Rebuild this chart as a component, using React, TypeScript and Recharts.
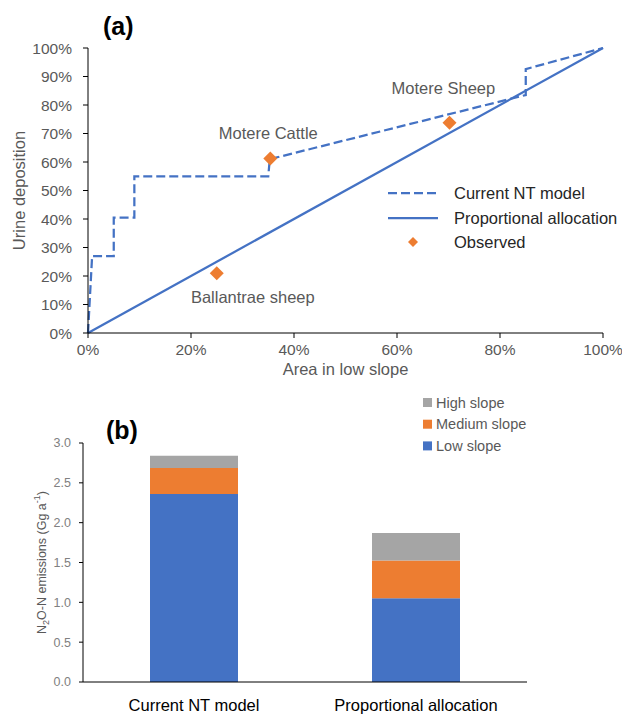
import React from "react";
import {
  ComposedChart,
  Line,
  Scatter,
  XAxis,
  YAxis,
  ReferenceDot,
  Legend,
  BarChart,
  Bar,
} from "recharts";

// ---- (a) urine deposition vs area in low slope ----
const ntModelX = [0, 0.8, 5, 5, 9, 9, 35, 35.3, 85, 85, 100];
const ntModelY = [0, 27, 27, 40.5, 40.5, 55, 55, 61, 83.5, 92.6, 100];
const proportionalX = [0, 100];
const proportionalY = [0, 100];
const observedX = [25, 35.4, 70.2];
const observedY = [21, 61.2, 73.8];
const siteNames = ["Ballantrae sheep", "Motere Cattle", "Motere Sheep"];
// where each site name sits, in axis units
const siteLabelX = [32, 35, 69];
const siteLabelY = [12.6, 70.2, 86];
const areaTicks = [0, 20, 40, 60, 80, 100];
const depositionTicks = [0, 10, 20, 30, 40, 50, 60, 70, 80, 90, 100];

// ---- (b) N2O-N emissions ----
const scenarios = ["Current NT model", "Proportional allocation"];
const lowSlope = [2.36, 1.05];
const mediumSlope = [0.325, 0.475];
const highSlope = [0.155, 0.345];
const emissionTicks = [0, 0.5, 1, 1.5, 2, 2.5, 3];

const BLUE = "#4472C4";
const ORANGE = "#ED7D31";
const GREY = "#A5A5A5";
const TEXT = "#595959";
const FONT = "'Liberation Sans', Arial, sans-serif";

const ntModel = ntModelX.map((x, i) => ({ x, y: ntModelY[i] }));
const proportional = proportionalX.map((x, i) => ({ x, y: proportionalY[i] }));
const observed = observedX.map((x, i) => ({ x, y: observedY[i] }));
const emissions = scenarios.map((name, i) => ({
  name,
  low: lowSlope[i],
  medium: mediumSlope[i],
  high: highSlope[i],
}));

const Diamond = (props: any) => {
  const { cx, cy } = props;
  const r = 7;
  return (
    <polygon
      points={`${cx},${cy - r} ${cx + r},${cy} ${cx},${cy + r} ${cx - r},${cy}`}
      fill={ORANGE}
    />
  );
};

const TopLegend = () => (
  <svg width={240} height={76} style={{ fontFamily: FONT, overflow: "visible" }}>
    <line x1={2} y1={13} x2={52} y2={13} stroke={BLUE} strokeWidth={2.25} strokeDasharray="9 4" />
    <text x={68} y={19} fontSize={16.5} fill="#262626">Current NT model</text>
    <line x1={2} y1={38} x2={52} y2={38} stroke={BLUE} strokeWidth={2.25} />
    <text x={68} y={44} fontSize={16.5} fill="#262626">Proportional allocation</text>
    <polygon points="27,57 32,62 27,67 22,62" fill={ORANGE} />
    <text x={68} y={68} fontSize={16.5} fill="#262626">Observed</text>
  </svg>
);

const BottomLegend = () => {
  const rows = [
    { label: "High slope", color: GREY },
    { label: "Medium slope", color: ORANGE },
    { label: "Low slope", color: BLUE },
  ];
  return (
    <svg width={130} height={64} style={{ fontFamily: FONT, overflow: "visible" }}>
      {rows.map((r, i) => (
        <g key={r.label}>
          <rect x={3} y={6 + i * 21.7} width={9} height={9} fill={r.color} />
          <text x={16} y={15.5 + i * 21.7} fontSize={14.5} fill={TEXT}>
            {r.label}
          </text>
        </g>
      ))}
    </svg>
  );
};

const EmissionLabel = (props: any) => {
  const vb = props.viewBox || {};
  const cx = 42;
  const cy = vb.y + vb.height / 2;
  return (
    <text
      x={cx}
      y={cy}
      transform={`rotate(-90, ${cx}, ${cy})`}
      textAnchor="middle"
      dominantBaseline="central"
      fontSize={12.5}
      fill={TEXT}
      fontFamily={FONT}
    >
      N<tspan fontSize={9} dy={4}>2</tspan>
      <tspan dy={-4}>O-N emissions (Gg a</tspan>
      <tspan fontSize={9} dy={-5}>-1</tspan>
      <tspan dy={5}>)</tspan>
    </text>
  );
};

export default function App() {
  return (
    <div style={{ position: "absolute", left: 0, top: 0, width: 622, height: 714, fontFamily: FONT, background: "#fff" }}>
      <div style={{ position: "absolute", left: 0, top: 0 }}>
        <ComposedChart
          width={622}
          height={380}
          margin={{ top: 48, right: 19, bottom: 2, left: 0 }}
        >
          <XAxis
            type="number"
            dataKey="x"
            domain={[0, 100]}
            ticks={areaTicks}
            tickFormatter={(v) => `${v}%`}
            axisLine={{ stroke: "#000" }}
            tickLine={{ stroke: "#000" }}
            tickSize={5}
            tickMargin={6}
            height={45}
            tick={{ fontSize: 15.5, fill: TEXT, fontFamily: FONT }}
            label={{ value: "Area in low slope", position: "insideBottom", offset: 3, fontSize: 16.5, fill: TEXT, fontFamily: FONT }}
          />
          <YAxis
            type="number"
            domain={[0, 100]}
            ticks={depositionTicks}
            tickFormatter={(v) => `${v}%`}
            axisLine={{ stroke: "#000" }}
            tickLine={{ stroke: "#000" }}
            tickSize={5}
            tickMargin={11}
            width={88}
            tick={{ fontSize: 15.5, fill: TEXT, fontFamily: FONT }}
            label={{
              value: "Urine deposition",
              angle: -90,
              position: "insideLeft",
              offset: 19,
              fontSize: 16.5,
              fill: TEXT,
              fontFamily: FONT,
              style: { textAnchor: "middle" },
            }}
          />
          <Line
            data={proportional}
            dataKey="y"
            type="linear"
            stroke={BLUE}
            strokeWidth={2.25}
            dot={false}
            isAnimationActive={false}
          />
          <Line
            data={ntModel}
            dataKey="y"
            type="linear"
            stroke={BLUE}
            strokeWidth={2.25}
            strokeDasharray="9 4"
            dot={false}
            isAnimationActive={false}
          />
          <Scatter data={observed} dataKey="y" shape={<Diamond />} isAnimationActive={false} />
          {siteNames.map((name, i) => (
            <ReferenceDot
              key={name}
              x={siteLabelX[i]}
              y={siteLabelY[i]}
              r={0}
              fill="none"
              stroke="none"
              label={{ value: name, position: "center", fontSize: 16.5, fill: TEXT, fontFamily: FONT }}
            />
          ))}
          <Legend
            layout="vertical"
            verticalAlign="middle"
            align="center"
            wrapperStyle={{ left: 386, top: 180, width: 240 }}
            content={() => <TopLegend />}
          />
        </ComposedChart>
      </div>
      <div style={{ position: "absolute", left: 103, top: 12, fontSize: 25, fontWeight: "bold", color: "#000" }}>
        (a)
      </div>

      <div style={{ position: "absolute", left: 0, top: 380 }}>
        <BarChart
          width={622}
          height={334}
          data={emissions}
          margin={{ top: 63, right: 95, bottom: 0, left: 0 }}
        >
          <XAxis
            dataKey="name"
            axisLine={{ stroke: "#000" }}
            tickLine={false}
            tickSize={0}
            tickMargin={17}
            height={32}
            tick={{ fontSize: 16.5, fill: "#000", fontFamily: FONT }}
          />
          <YAxis
            type="number"
            domain={[0, 3]}
            ticks={emissionTicks}
            tickFormatter={(v) => Number(v).toFixed(1)}
            axisLine={{ stroke: "#000" }}
            tickLine={{ stroke: "#000" }}
            tickSize={4}
            tickMargin={8}
            width={83}
            tick={{ fontSize: 12.5, fill: "#808080", fontFamily: FONT }}
            label={<EmissionLabel />}
          />
          <Bar dataKey="low" stackId="s" fill={BLUE} barSize={88} isAnimationActive={false} />
          <Bar dataKey="medium" stackId="s" fill={ORANGE} barSize={88} isAnimationActive={false} />
          <Bar dataKey="high" stackId="s" fill={GREY} barSize={88} isAnimationActive={false} />
          <Legend
            layout="vertical"
            verticalAlign="middle"
            align="center"
            wrapperStyle={{ left: 420, top: 12, width: 130 }}
            content={() => <BottomLegend />}
          />
        </BarChart>
      </div>
      <div style={{ position: "absolute", left: 106, top: 416, fontSize: 25, fontWeight: "bold", color: "#000" }}>
        (b)
      </div>
    </div>
  );
}
